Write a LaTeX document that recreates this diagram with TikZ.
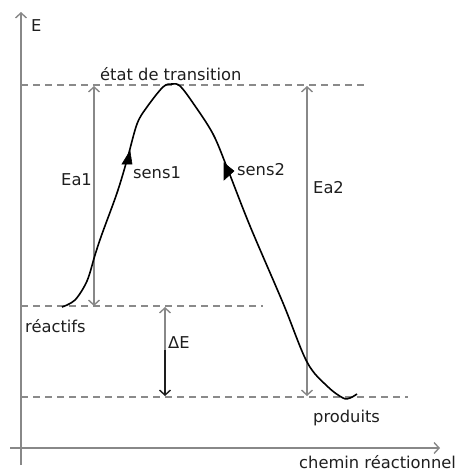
\documentclass[tikz,border=0pt]{standalone}
\usepackage{fontspec}
\setmainfont{DejaVu Sans}
\usetikzlibrary{arrows.meta}
\definecolor{axisgray}{HTML}{888888}
\definecolor{dashgray}{HTML}{8A8A8A}
\definecolor{txt}{HTML}{1E1E1E}
\tikzset{
  lbl/.style={anchor=base west,inner sep=0pt,text=txt,font=\fontsize{16.3}{18}\selectfont},
  axisline/.style={draw=axisgray,line width=2.2pt},
  levelline/.style={draw=dashgray,line width=1.6pt,dash pattern=on 7pt off 5pt},
  energyarrow/.style={draw=axisgray,line width=2.6pt,{Straight Barb[length=5pt,width=11pt,line width=1.4pt]}-{Straight Barb[length=5pt,width=11pt,line width=1.4pt]}},
  openhead/.style={-{Straight Barb[length=5pt,width=11pt,line width=1.4pt]}},
  curveline/.style={draw=black,line width=1.6pt},
  marktri/.style={fill=black,draw=black,line width=0.6pt}
}
\begin{document}
\begin{tikzpicture}[x=1pt,y=-1pt]
\useasboundingbox (0,0) rectangle (463,474);
% axes
\coordinate (ybot) at (21,465);
\coordinate (ytop) at (21,12);
\coordinate (xl) at (10,448);
\coordinate (xr) at (440,448);
\draw[axisline,openhead] (ybot) -- (ytop);
\draw[axisline,openhead] (xl) -- (xr);
% levels
\coordinate (tsL) at (21,85);
\coordinate (tsR) at (367,85);
\coordinate (rL) at (21,306);
\coordinate (rR) at (263,306);
\coordinate (pL) at (21,397);
\coordinate (pR) at (408,397);
\draw[levelline] (tsL) -- (tsR);
\draw[levelline] (rL) -- (rR);
\draw[levelline] (pL) -- (pR);
% energy arrows
\coordinate (ea1b) at (94,306);
\coordinate (ea1t) at (94,86);
\coordinate (ea2t) at (307,86);
\coordinate (ea2b) at (307,396);
\draw[energyarrow] (ea1b) -- (ea1t);
\draw[energyarrow] (ea2b) -- (ea2t);
\coordinate (deT) at (165,307);
\coordinate (deM) at (165,350);
\coordinate (deB) at (165,396);
\draw[draw=axisgray,line width=2.6pt,openhead] (deM) -- (deT);
\draw[draw=txt,line width=1.8pt,openhead] (deM) -- (deB);
% reaction curve
\draw[curveline] plot[smooth,tension=0.55] coordinates {
 (62,307) (75,300) (87,281) (95,255) (102,234) (117,193) (127,160)
 (137,124) (147,107) (163,87) (172,84) (180,86) (193,103) (213,134)
 (228,170) (250,226) (283,303) (307,362) (327,386) (343,398) (350,398) (357,394)};
% direction marks
\fill[marktri] (130,151) -- (122,164) -- (132,164) -- cycle;
\fill[marktri] (224,163) -- (224,180) -- (234,171) -- cycle;
% labels
\node[lbl] (E) at (31,31) {E};
\node[lbl] (ts) at (100,80) {état de transition};
\node[lbl] (ea1) at (61,185) {Ea1};
\node[lbl] (s1) at (133,178) {sens1};
\node[lbl] (s2) at (237,175) {sens2};
\node[lbl] (ea2) at (313,193) {Ea2};
\node[lbl] (re) at (25,332) {réactifs};
\node[lbl] (de) at (168,348) {ΔE};
\node[lbl] (pr) at (313,422) {produits};
\node[lbl] (ch) at (299,468) {chemin réactionnel};
\end{tikzpicture}
\end{document}
